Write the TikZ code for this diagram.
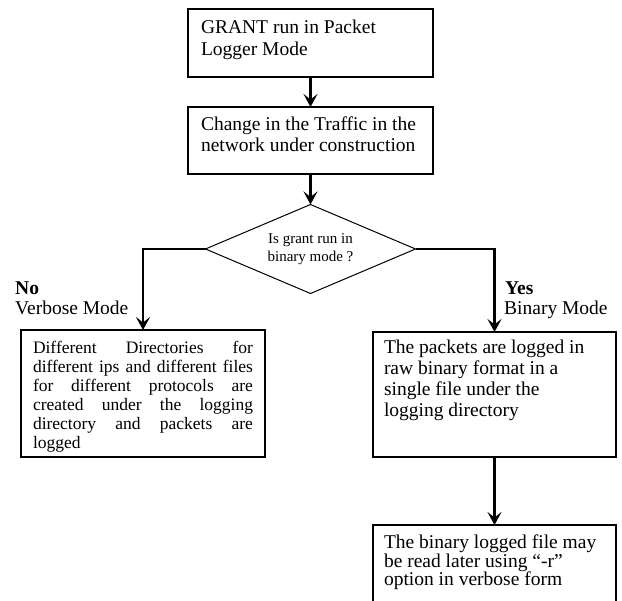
\documentclass[tikz,border=0pt]{standalone}
\usepackage{fontspec}
\setmainfont{Liberation Serif}
\usetikzlibrary{arrows.meta,shapes.geometric}
\newcommand\flowtext[4]{\parbox[c][#2][t]{#1}{\vspace*{#3}#4}}
\tikzset{
  box/.style={draw, line width=1.1pt, inner xsep=#1, inner ysep=0pt, outer sep=0pt,
              anchor=north west, font=\fontsize{19.5}{21.5}\selectfont},
  box/.default=12pt,
  dia/.style={draw, diamond, line width=1pt, inner sep=0pt, outer sep=0pt, aspect=2.3,
              minimum width=210pt, minimum height=89pt, align=center,
              font=\fontsize{15}{18}\selectfont},
  lbl/.style={inner sep=0pt, anchor=base west, font=\fontsize{19.5}{22}\selectfont},
  arr/.style={line width=2.4pt, -{Stealth[length=13pt,width=14pt,inset=5.5pt]}}
}
\begin{document}
\begin{tikzpicture}[x=1pt,y=-1pt]
\clip (0,0) rectangle (622,601);
\fill[white] (0,0) rectangle (622,601);

\node[box=13pt] (b1) at (188,9)
  {\flowtext{219pt}{68pt}{11pt}{\raggedright GRANT run in Packet\\Logger Mode}};
\node[box=13pt] (b2) at (188,107)
  {\flowtext{219pt}{67pt}{9.5pt}{\raggedright Change in the Traffic in the\\network under construction}};

\node[dia] (q) at (310.5,249) {Is grant run in\\binary mode ?};

\node[lbl] (no) at (15,294.5) {\textbf{No}};
\node[lbl] (vm) at (15,314.5) {Verbose Mode};
\node[lbl] (yes) at (505,294.5) {\textbf{Yes}};
\node[lbl] (bm) at (504,314.5) {Binary Mode};

\node[box=12pt, font=\fontsize{17.5}{19}\selectfont] (lb) at (21,330)
  {\flowtext{220pt}{127pt}{11pt}{%
   \makebox[\linewidth][s]{Different Directories for}\\
   \makebox[\linewidth][s]{different ips and different files}\\
   \makebox[\linewidth][s]{for different protocols are}\\
   \makebox[\linewidth][s]{created under the logging}\\
   \makebox[\linewidth][s]{directory and packets are}\\
   logged}};

\node[box=11pt, font=\fontsize{19.5}{21}\selectfont] (rb) at (373,332)
  {\flowtext{221pt}{125pt}{8pt}{\raggedright The packets are logged in\\raw binary format in a\\single file under the\\logging directory}};

\node[box=11pt, font=\fontsize{19.5}{18.5}\selectfont] (fb) at (373,525)
  {\flowtext{221pt}{95pt}{10pt}{\raggedright The binary logged file may\\be read later using “-r”\\option in verbose form}};

\draw[arr] (b1.south) -- (b2.north);
\draw[arr] (b2.south) -- (q.north);
\draw[arr] (q.west) -| (lb.north);
\draw[arr] (q.east) -| (rb.north);
\draw[arr] (rb.south) -- (fb.north);
\end{tikzpicture}
\end{document}
